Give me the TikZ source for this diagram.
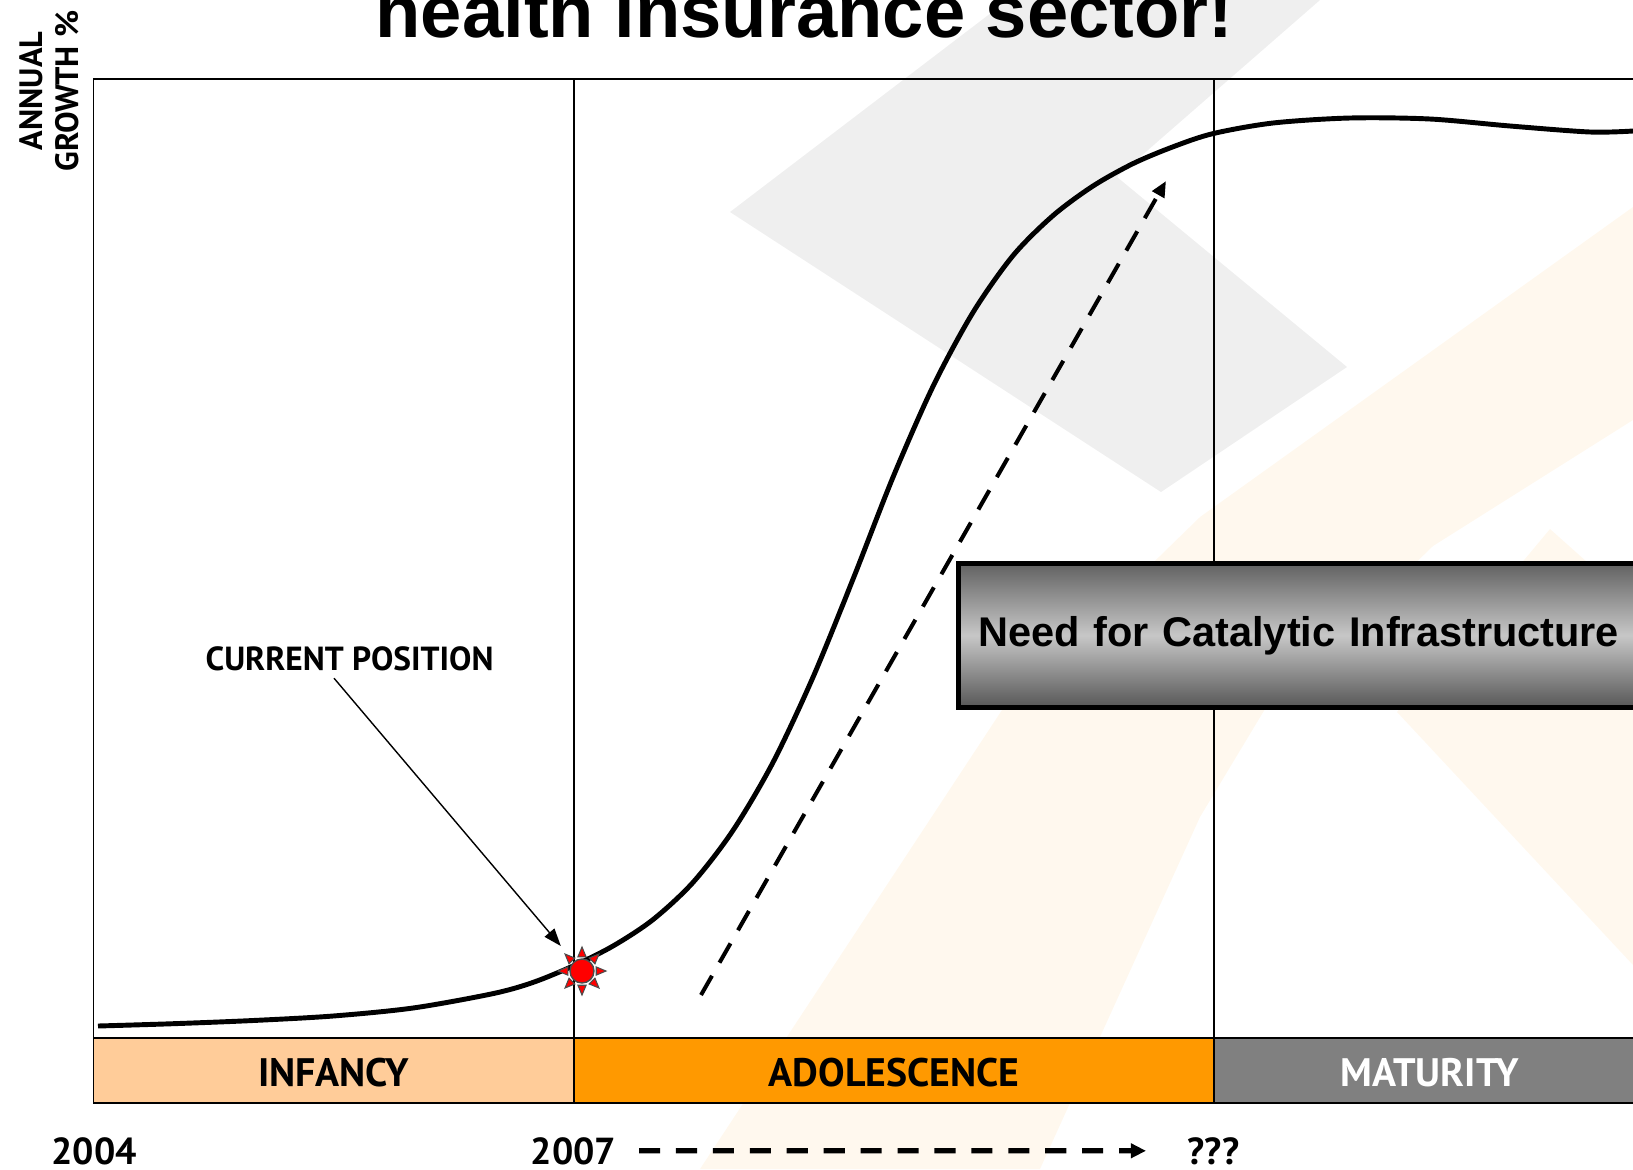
\documentclass[tikz,border=0pt]{standalone}
\usepackage{fontspec}
\setmainfont{Liberation Sans}
\newfontfamily\labelfont{PT Sans}
\usetikzlibrary{arrows.meta}
\usepackage{xcolor}

\definecolor{infancy}{HTML}{FFCC99}
\definecolor{adolescence}{HTML}{FF9900}
\definecolor{maturity}{HTML}{808080}
\definecolor{markgrey}{HTML}{EFEFEF}
\definecolor{markcream}{HTML}{FFF8EE}

\tikzset{
    title/.style={font=\bfseries\fontsize{21.1}{25}\selectfont, anchor=base},
    axislabel/.style={font=\labelfont\bfseries\fontsize{9.2}{11}\selectfont, anchor=base},
    phase/.style={font=\labelfont\bfseries\fontsize{11.3}{13}\selectfont, anchor=base},
    year/.style={font=\labelfont\bfseries\fontsize{10.7}{12}\selectfont, anchor=base, inner sep=0pt},
    note/.style={font=\labelfont\bfseries\fontsize{9.5}{11}\selectfont, anchor=base, inner sep=2pt},
    thinline/.style={line width=0.55pt},
    growth/.style={line width=1.4pt},
    risearrow/.style={line width=1.15pt, dash pattern=on 6.3pt off 4.3pt, -{Triangle[length=4.5pt,width=3.8pt]}},
    yeararrow/.style={line width=1.5pt, dash pattern=on 6pt off 4.5pt, -{Triangle[length=4.3pt,width=4pt]}, shorten <=6.3pt, shorten >=11.7pt},
    pointer/.style={line width=0.4pt, -{Triangle[length=5pt,width=3.6pt]}, shorten >=5.7pt},
    needbox/.style={draw=black, line width=1.45pt, top color=black!62, bottom color=black!66, middle color=black!22,
        minimum width=8cm, minimum height=1.445cm, text width=7.6cm, align=left, inner xsep=0.12cm,
        font=\bfseries\fontsize{11.8}{14}\selectfont},
    sun/.style={circle, fill=red, draw=black!70, line width=0.4pt, minimum size=0.24cm, inner sep=0pt},
    sunray/.style={fill=red, draw=black!70, line width=0.3pt}
}

\begin{document}
\begin{tikzpicture}[x=0.01cm, y=-0.01cm]
            \useasboundingbox (0,0) rectangle (1633,1169);
            \clip (0,0) rectangle (1633,1169);

            % faint logo behind the chart
            \fill[markcream] (700,1169) -- (1002,710) -- (1200,517) -- (1633,207) -- (1633,420) -- (1433,546) -- (1265,709) -- (1200,817) -- (1040,1169) -- cycle;
            \fill[markcream] (1397,712) -- (1550,529) -- (1633,603) -- (1633,965) -- cycle;
            \fill[markgrey] (730,212) -- (1008,0) -- (1320,0) -- (1117,177) -- (1347,367) -- (1161,492) -- cycle;

            \node[title] (head) at (804.5,37) {health insurance sector!};
            \node[axislabel, rotate=90] (ann) at (42,91) {ANNUAL};
            \node[axislabel, rotate=90] (gro) at (78,91) {GROWTH \%};

            % frame and phase bands
            \draw[thinline] (93.5,1103) -- (93.5,79) -- (1640,79);
            \draw[thinline] (574,79) -- (574,1103);
            \draw[thinline] (1214,79) -- (1214,1103);
            \draw[thinline, fill=infancy] (93.5,1038) rectangle (574,1103);
            \draw[thinline, fill=adolescence] (574,1038) rectangle (1214,1103);
            \draw[thinline, fill=maturity] (1214,1038) rectangle (1640,1103);
            \node[phase] (inf) at (333.75,1086) {INFANCY};
            \node[phase] (adol) at (894,1086) {ADOLESCENCE};
            \node[phase, white] (mat) at (1430,1086) {MATURITY};

            \draw[growth] plot[smooth] coordinates {(98,1026) (173,1023.7) (253,1020.5) (333,1016) (413,1008)
                (493,993.6) (533,982.4) (573,966) (613,946) (653,919.6) (693,882.4) (733,830.4) (773,762.4)
                (813,677.2) (853,579.2) (893,477.2) (933,386.4) (973,312.4) (1013,255.6) (1053,215.6)
                (1093,186) (1133,163.6) (1173,146.8) (1213,133.6) (1273,123) (1350,118) (1430,119)
                (1510,126) (1590,132) (1633,131)};

            \coordinate (rise0) at (701,995);
            \coordinate (rise1) at (1166,181);
            \draw[risearrow] (rise0) -- (rise1);

            \node[needbox, anchor=north west] (need) at (955.5,560.5) {\mbox{Need for Catalytic Infrastructure}};

            % current position marker
            \coordinate (nowc) at (582,971);
            \foreach \a in {0,45,...,315}
                \filldraw[sunray] ([shift={(\a-16:14.8)}]nowc) -- ([shift={(\a:24)}]nowc) -- ([shift={(\a+16:14.8)}]nowc) -- cycle;
            \node[sun] (now) at (nowc) {};

            \node[note] (cur) at (349.5,670) {CURRENT POSITION};
            \draw[pointer] ([xshift=-4.4pt]cur.south) -- (now);

            \node[year] (y2004) at (94,1164) {2004};
            \node[year] (y2007) at (573.5,1164) {2007};
            \node[year] (yunk) at (1213.5,1164) {???};
            \draw[yeararrow] (y2007) -- (yunk);
        \end{tikzpicture}
\end{document}
